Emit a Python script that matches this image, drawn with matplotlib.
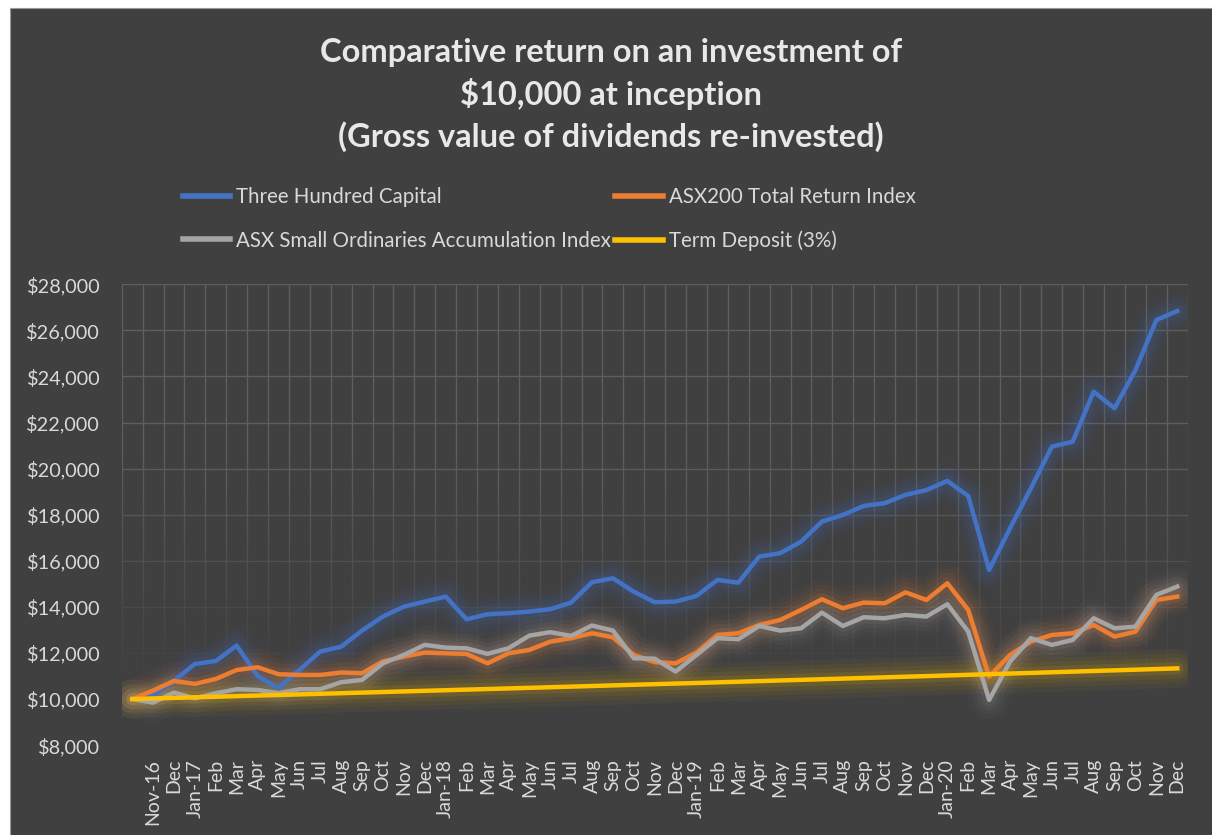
import numpy as np
import matplotlib
matplotlib.use('Agg')
import matplotlib.pyplot as plt
from matplotlib.patches import Rectangle
from matplotlib.colors import to_rgb

plt.rcParams['font.family'] = ['Lato', 'DejaVu Sans']

# first category is the inception point (no label)
months = ['', 'Nov-16', 'Dec',
          'Jan-17', 'Feb', 'Mar', 'Apr', 'May', 'Jun', 'Jul', 'Aug', 'Sep', 'Oct', 'Nov', 'Dec',
          'Jan-18', 'Feb', 'Mar', 'Apr', 'May', 'Jun', 'Jul', 'Aug', 'Sep', 'Oct', 'Nov', 'Dec',
          'Jan-19', 'Feb', 'Mar', 'Apr', 'May', 'Jun', 'Jul', 'Aug', 'Sep', 'Oct', 'Nov', 'Dec',
          'Jan-20', 'Feb', 'Mar', 'Apr', 'May', 'Jun', 'Jul', 'Aug', 'Sep', 'Oct', 'Nov', 'Dec']

three_hundred = [10000, 10130, 10800, 11520, 11650, 12320, 11000, 10470, 11260, 12060, 12270, 12970, 13580,
                 14010, 14230, 14445, 13460, 13680, 13725, 13795, 13895, 14185, 15070, 15240, 14660, 14200,
                 14230, 14475, 15170, 15050, 16180, 16330, 16830, 17700, 17990, 18380, 18500, 18860,
                 19070, 19465, 18815, 15600, 17410, 19150, 20955, 21170, 23340, 22620, 24280, 26450, 26840]

asx200 = [10000, 10365, 10785, 10655, 10870, 11260, 11380, 11075, 11045, 11045, 11150, 11120, 11630,
          11840, 12015, 11985, 11955, 11550, 11985, 12130, 12490, 12640, 12855, 12680, 11915, 11600,
          11550, 12015, 12780, 12855, 13215, 13430, 13865, 14330, 13940, 14185, 14155, 14630,
          14300, 15025, 13865, 10970, 11915, 12490, 12780, 12855, 13215, 12710, 12925, 14300, 14445]

small_ords = [10000, 9845, 10280, 10030, 10250, 10425, 10395, 10250, 10425, 10425, 10730, 10830, 11550,
              11915, 12350, 12230, 12200, 11960, 12200, 12750, 12900, 12740, 13190, 12970, 11770, 11750,
              11190, 11915, 12640, 12595, 13170, 12970, 13070, 13750, 13170, 13550, 13505, 13650,
              13580, 14115, 12925, 9960, 11625, 12640, 12350, 12565, 13505, 13070, 13140, 14520, 14880]

term_deposit = [10000, 10025, 10050, 10075, 10100, 10126, 10151, 10176, 10202, 10227, 10253, 10279, 10304,
                10330, 10356, 10382, 10408, 10434, 10460, 10486, 10512, 10538, 10565, 10591, 10618, 10644,
                10671, 10697, 10724, 10751, 10778, 10805, 10832, 10859, 10886, 10913, 10941, 10968,
                10995, 11023, 11050, 11078, 11106, 11133, 11161, 11189, 11217, 11245, 11273, 11301, 11330]

series = [
    ('Three Hundred Capital', three_hundred, '#4472C4'),
    ('ASX200 Total Return Index', asx200, '#ED7D31'),
    ('ASX Small Ordinaries Accumulation Index', small_ords, '#A5A5A5'),
    ('Term Deposit (3%)', term_deposit, '#FFC000'),
]

BG = '#404040'
TXT = '#D9D9D9'
GRID = '#5E5E5E'

fig = plt.figure(figsize=(12.12, 8.35), dpi=100, facecolor='white')
fig.patches.append(Rectangle((10 / 1212, 0), 1, 1 - 8 / 835, transform=fig.transFigure,
                             facecolor=BG, edgecolor='#9A9A9A', linewidth=0.8, zorder=-10))

ax = fig.add_axes([121.7 / 1212, 1 - 745.1 / 835, (1187.7 - 121.7) / 1212, (745.1 - 284.3) / 835])
ax.set_facecolor(BG)
x = np.arange(len(months))

ax.set_yticks(np.arange(8000, 28001, 2000))
ax.yaxis.set_major_formatter(matplotlib.ticker.FuncFormatter(lambda v, p: '${:,.0f}'.format(v)))
ax.set_xticks(x)
ax.set_xticklabels(months, rotation=90, ha='center', va='top')
ax.set_xticks(np.arange(-0.5, len(months), 1.0), minor=True)
ax.tick_params(axis='both', which='both', length=0, colors=TXT)
ax.tick_params(axis='y', pad=15.5, labelsize=14.3)
ax.tick_params(axis='x', pad=10, labelsize=14)
for s in ax.spines.values():
    s.set_visible(False)

ax.set_axisbelow(True)
ax.grid(True, axis='y', which='major', color=GRID, linewidth=1.0)
ax.grid(True, axis='x', which='minor', color=GRID, linewidth=1.0)
ax.yaxis.get_gridlines()[0].set_visible(False)

# gridlines fade out towards the bottom of the plot area
ys = np.linspace(28000, 8000, 400)
fade = np.clip((20500 - ys) / 10000.0, 0, 1)
grad = np.zeros((400, 2, 4))
grad[:, :, :3] = to_rgb(BG)
grad[:, :, 3] = fade[:, None]
ax.imshow(grad, extent=(-0.5, len(months) - 0.5, 8000, 28000), aspect='auto', zorder=1,
          interpolation='bilinear', origin='upper')
ax.set_xlim(-0.5, len(months) - 0.5)
ax.set_ylim(8000, 28000)

handles = []
for name, vals, col in series:
    # soft glow round each line
    for w, a in [(28, 0.04), (21, 0.05), (15, 0.065), (9, 0.1)]:
        ax.plot(x, vals, color=col, lw=w, alpha=a, solid_joinstyle='round',
                solid_capstyle='round', zorder=2)
    ln, = ax.plot(x, vals, color=col, lw=3.2, solid_joinstyle='round', zorder=3, label=name)
    handles.append(ln)

fig.text(611 / 1212, 1 - 95 / 835,
         'Comparative return on an investment of\n$10,000 at inception\n(Gross value of dividends re-invested)',
         ha='center', va='center', color='#E8E8E8', fontsize=23.5, fontweight='bold', linespacing=1.42)

order = [0, 2, 1, 3]
leg = fig.legend([handles[i] for i in order], [series[i][0] for i in order],
                 loc='upper left', bbox_to_anchor=(183 / 1212, 1 - 187 / 835), ncol=2,
                 frameon=False, borderpad=0, borderaxespad=0, fontsize=14.8,
                 handlelength=2.3, handletextpad=0.3, columnspacing=0.2, labelspacing=1.15,
                 labelcolor=TXT)
for h in leg.legend_handles:
    h.set_linewidth(4)

fig.savefig('out.png', dpi=100, facecolor=fig.get_facecolor())
